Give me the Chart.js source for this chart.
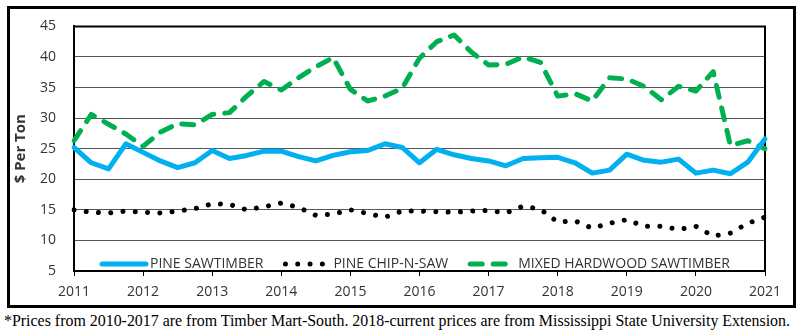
<!DOCTYPE html>
<html>
<head>
<meta charset="utf-8">
<script src="https://cdn.jsdelivr.net/npm/chart.js@4.4.1/dist/chart.umd.min.js"></script>
<style>
    html, body { margin: 0; padding: 0; background: #fff; }
    body { width: 803px; height: 336px; position: relative; overflow: hidden; }
    #frame { position: absolute; left: 7px; top: 6px; width: 783px; height: 296px; border: 3px solid #000; }
    #wrap { position: absolute; left: 0; top: 0; width: 803px; height: 310px; }
    #note { position: absolute; left: 4px; top: 312px; font-family: "Liberation Serif", "Times New Roman", serif;
            font-size: 16px; white-space: nowrap; transform-origin: 0 0; color: #000; }
</style>
</head>
<body>
<div id="frame"></div>
<div id="wrap"><canvas id="chart" width="803" height="310"></canvas></div>
<div id="note">*Prices from 2010-2017 are from Timber Mart-South. 2018-current prices are from Mississippi State University Extension.</div>

<script>
// Quarterly stumpage prices, $ per ton, 2011 Q1 .. 2021 Q1
const years = [2011, 2012, 2013, 2014, 2015, 2016, 2017, 2018, 2019, 2020, 2021];

const pineSawtimber = [25.2, 22.7, 21.7, 25.8, 24.4, 23.0, 21.9, 22.7, 24.7, 23.4,
                       23.9, 24.6, 24.6, 23.7, 23.0, 23.9, 24.5, 24.7, 25.8, 25.2,
                       22.7, 24.9, 24.0, 23.4, 23.0, 22.2, 23.4, 23.5, 23.6, 22.7,
                       21.0, 21.5, 24.1, 23.1, 22.8, 23.3, 21.0, 21.5, 20.9, 22.8, 26.6];

const pineChipNSaw = [15.0, 14.6, 14.5, 14.8, 14.6, 14.5, 14.8, 15.2, 16.0, 15.9,
                      15.0, 15.5, 16.1, 15.4, 14.1, 14.3, 15.0, 14.4, 13.8, 14.8,
                      14.8, 14.7, 14.6, 14.8, 14.9, 14.5, 15.6, 15.1, 13.0, 13.2,
                      12.0, 12.8, 13.4, 12.3, 12.3, 11.8, 12.3, 10.7, 11.2, 12.8, 13.8];

const mixedHardwood = [26.3, 30.6, 29.0, 27.4, 25.4, 27.7, 29.1, 28.9, 30.6, 30.9,
                       33.6, 36.0, 34.6, 36.6, 38.4, 39.9, 34.7, 32.8, 33.6, 34.9,
                       39.8, 42.5, 43.6, 40.8, 38.7, 38.8, 40.0, 39.1, 33.6, 34.0,
                       32.8, 36.6, 36.4, 35.2, 33.0, 35.2, 34.4, 37.6, 25.5, 26.3, 25.0];

// quarter labels, year shown only on Q1
const quarters = [];
years.forEach((y, i) => {
    const n = i === years.length - 1 ? 1 : 4;
    for (let q = 1; q <= n; q++) quarters.push(y + ' Q' + q);
});

const textColor = '#333';

// top + right border of the plot area
const plotBorder = {
    id: 'plotBorder',
    beforeDatasetsDraw(chart) {
        const { ctx, chartArea: a } = chart;
        ctx.save();
        ctx.strokeStyle = '#000';
        ctx.lineWidth = 2;
        ctx.beginPath();
        ctx.moveTo(a.left, a.top);
        ctx.lineTo(a.right, a.top);
        ctx.lineTo(a.right, a.bottom);
        ctx.stroke();
        ctx.restore();
    }
};

// legend sitting inside the plot, along the bottom
const inPlotLegend = {
    id: 'inPlotLegend',
    afterDatasetsDraw(chart) {
        const c = chart.ctx;
        let x = 102;
        const y = 264;
        c.save();
        c.font = '14px "Open Sans"';
        c.textBaseline = 'middle';
        chart.data.datasets.forEach(ds => {
            c.strokeStyle = ds.borderColor;
            c.lineWidth = ds.borderWidth;
            c.lineCap = ds.borderCapStyle || 'butt';
            c.setLineDash(ds.borderDash || []);
            c.beginPath();
            c.moveTo(x, y);
            c.lineTo(x + 44, y);
            c.stroke();
            c.setLineDash([]);
            c.fillStyle = textColor;
            c.fillText(ds.label, x + 48, y);
            x += 48 + c.measureText(ds.label).width + 22;
        });
        c.restore();
    }
};

const ctx = document.getElementById('chart').getContext('2d');
new Chart(ctx, {
    type: 'line',
    data: {
        labels: quarters,
        datasets: [{
            label: 'PINE SAWTIMBER',
            data: pineSawtimber,
            borderColor: '#00B0F0',
            borderWidth: 5,
            borderCapStyle: 'round',
            borderJoinStyle: 'round'
        }, {
            label: 'PINE CHIP-N-SAW',
            data: pineChipNSaw,
            borderColor: '#000',
            borderWidth: 5,
            borderDash: [0.01, 12.3],
            borderCapStyle: 'round'
        }, {
            label: 'MIXED HARDWOOD SAWTIMBER',
            data: mixedHardwood,
            borderColor: '#00B050',
            borderWidth: 5,
            borderDash: [12, 11],
            borderCapStyle: 'round',
            borderJoinStyle: 'round'
        }]
    },
    options: {
        responsive: false,
        animation: false,
        layout: { padding: { left: 0, right: 38, top: 23, bottom: 0 } },
        elements: { point: { radius: 0 }, line: { tension: 0, fill: false } },
        plugins: {
            legend: { display: false },
            tooltip: { enabled: false }
        },
        scales: {
            x: {
                offset: false,
                grid: {
                    drawOnChartArea: false,
                    drawTicks: true,
                    tickLength: 5,
                    tickColor: c => (c.index % 4 === 0 ? '#000' : 'rgba(0,0,0,0)')
                },
                border: { color: '#000', width: 2 },
                ticks: {
                    autoSkip: false,
                    maxRotation: 0,
                    padding: 8,
                    color: textColor,
                    font: { family: 'Open Sans', size: 14 },
                    callback: (v, i) => (i % 4 === 0 ? quarters[i].slice(0, 4) : '')
                },
                afterFit(s) { s.height = 39; }
            },
            y: {
                min: 5,
                max: 45,
                ticks: {
                    stepSize: 5,
                    padding: 18,
                    color: textColor,
                    font: { family: 'Open Sans', size: 14 }
                },
                grid: { color: '#555', lineWidth: 1, drawTicks: false },
                border: { color: '#000', width: 2 },
                title: {
                    display: true,
                    text: '$ Per Ton',
                    color: textColor,
                    font: { family: 'Open Sans', size: 15, weight: 'bold' },
                    padding: { top: 12, bottom: 0 }
                },
                afterFit(s) { s.width = 74; }
            }
        }
    },
    plugins: [plotBorder, inPlotLegend]
});

// stretch footnote to the width it has in the original
const note = document.getElementById('note');
const w = note.getBoundingClientRect().width;
note.style.transform = 'scaleX(' + (786 / w) + ')';
</script>
</body>
</html>
